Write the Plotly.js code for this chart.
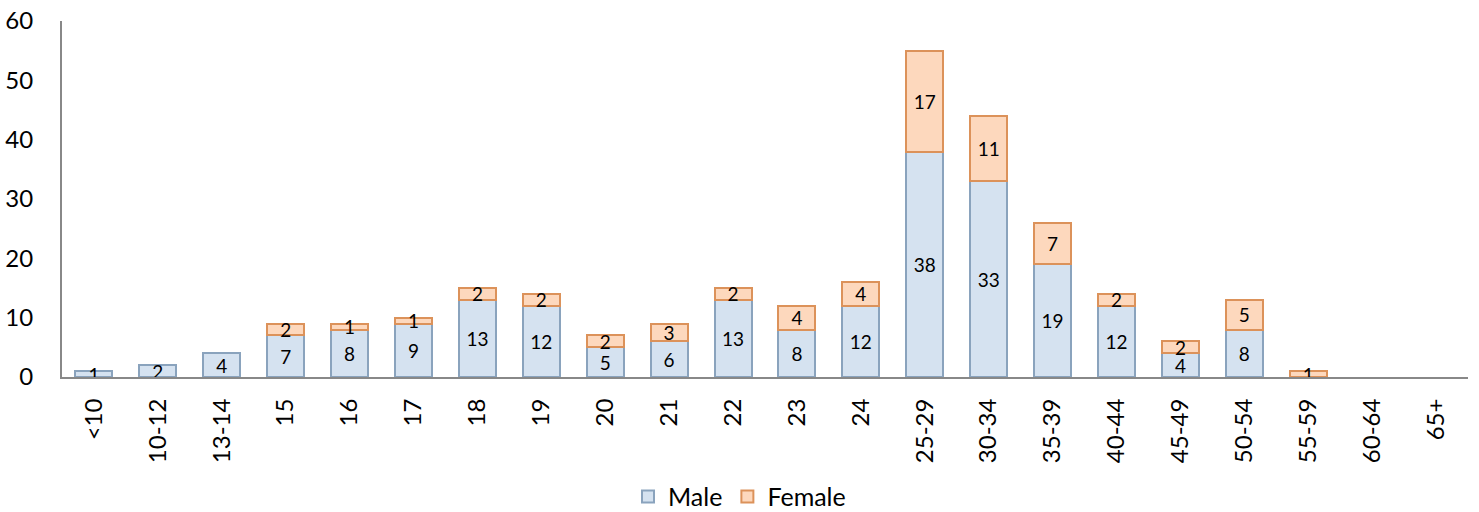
<!DOCTYPE html>
<html><head><meta charset="utf-8">
<script src="https://cdn.plot.ly/plotly-3.0.1.min.js"></script>
<style>html,body{margin:0;padding:0;background:#fff}#c{width:1479px;height:512px}</style>
</head><body><div id="c"></div>
<script>
const categories = ['<10','10-12','13-14','15','16','17','18','19','20','21','22','23','24','25-29','30-34','35-39','40-44','45-49','50-54','55-59','60-64','65+'];
const male   = [1,2,4,7,8,9,13,12,5,6,13,8,12,38,33,19,12,4,8,0,0,0];
const female = [0,0,0,2,1,1,2,2,2,3,2,4,4,17,11,7,2,2,5,1,0,0];
const yTicks = [0,10,20,30,40,50,60];

const lbl = a => a.map(v => v ? String(v) : '');
const nz = a => a.map(v => v ? v : null);
const FONT = 'Lato, "Open Sans", sans-serif';
const traces = [
  {type:'bar', name:'Male', x:categories, y:nz(male), text:lbl(male),
   textposition:'inside', insidetextanchor:'middle', constraintext:'none', textangle:0,
   textfont:{family:FONT,size:19,color:'#000'},
   marker:{color:'#d5e2f0', line:{color:'#8aa3bd', width:2}}, hoverinfo:'skip'},
  {type:'bar', name:'Female', x:categories, y:nz(female), text:lbl(female),
   textposition:'inside', insidetextanchor:'middle', constraintext:'none', textangle:0,
   textfont:{family:FONT,size:19,color:'#000'},
   marker:{color:'#fdd8bd', line:{color:'#dc925a', width:2}}, hoverinfo:'skip'}
];
const layout = {
  width:1479, height:512, barmode:'stack', bargap:0.42,
  margin:{l:62, r:11, t:21, b:135, autoexpand:false},
  paper_bgcolor:'#fff', plot_bgcolor:'#fff',
  font:{family:FONT, size:24, color:'#000'},
  showlegend:true,
  legend:{orientation:'h', x:0.5, xanchor:'center', xref:'container', yref:'container', y:0.03, yanchor:'middle', font:{size:25}, itemwidth:30, traceorder:'normal'},
  xaxis:{type:'category', tickangle:-90, showline:true, linecolor:'#888', linewidth:2, ticks:'', showgrid:false, zeroline:false, tickfont:{size:24}, ticklabelstandoff:10, automargin:false},
  yaxis:{range:[0,60], tickvals:yTicks, showline:true, linecolor:'#888', linewidth:2, ticks:'', showgrid:false, zeroline:false, tickfont:{size:24}, ticklabelstandoff:22, automargin:false}
};
Plotly.newPlot('c', traces, layout, {displayModeBar:false, staticPlot:true});
</script></body></html>
